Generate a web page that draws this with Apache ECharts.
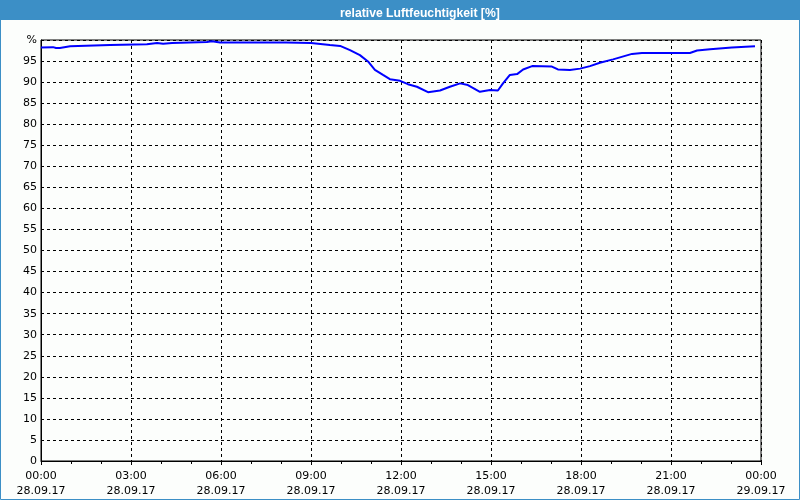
<!DOCTYPE html>
<html><head><meta charset="utf-8">
<script src="https://cdn.jsdelivr.net/npm/echarts@6/dist/echarts.min.js"></script>
<style>html,body{margin:0;padding:0;background:#fcfefc}#c{width:800px;height:500px}</style>
</head><body><div id="c"></div>
<script>
const titleText = 'relative Luftfeuchtigkeit [%]';
const hours = [0.00,0.4,0.5,0.63,0.97,2.3,3.53,3.87,4.07,4.37,5.53,5.7,5.97,8.17,9.0,9.63,9.97,10.3,10.63,10.9,11.13,11.4,11.63,11.97,12.23,12.53,12.9,13.3,13.63,13.97,14.23,14.63,14.97,15.23,15.4,15.63,15.87,16.07,16.37,17.03,17.23,17.63,17.97,18.3,18.63,19.07,19.7,20.03,21.63,21.87,22.3,23.03,23.8];
const humidity = [98.2,98.3,98.1,98.1,98.5,98.8,99.0,99.3,99.1,99.3,99.5,99.7,99.4,99.4,99.3,98.8,98.6,97.6,96.4,94.9,92.9,91.7,90.7,90.3,89.5,88.9,87.6,88.0,88.9,89.7,89.3,87.7,88.1,88.0,89.7,91.7,91.9,93.0,93.8,93.7,93.0,92.9,93.2,93.8,94.6,95.4,96.7,96.9,96.9,97.5,97.8,98.2,98.5];
const xTickLabels = ['00:00\n28.09.17','03:00\n28.09.17','06:00\n28.09.17','09:00\n28.09.17','12:00\n28.09.17','15:00\n28.09.17','18:00\n28.09.17','21:00\n28.09.17','00:00\n29.09.17'];

const chart = echarts.init(document.getElementById('c'));
const font = 'DejaVu Sans';
chart.setOption({
  backgroundColor: '#fcfefc',
  animation: false,
  title: {
    text: titleText, left: 335, top: 3,
    textStyle: {color: '#ffffff', fontSize: 12.2, fontWeight: 'bold', fontFamily: 'Liberation Sans'}
  },
  graphic: [
    {type: 'rect', shape: {x: 0, y: 0, width: 800, height: 20}, style: {fill: '#3c8fc6'}, z: -1},
    {type: 'rect', shape: {x: 0.5, y: 0.5, width: 799, height: 499}, style: {fill: null, stroke: '#3c8fc6', lineWidth: 1}, z: 10}
  ],
  grid: {left: 41, right: 39, top: 40, bottom: 39, show: true, borderColor: '#000', borderWidth: 1, backgroundColor: 'transparent'},
  xAxis: {
    type: 'value', min: 0, max: 24, interval: 3,
    axisLine: {lineStyle: {color: '#000'}},
    axisTick: {show: true, length: 4, lineStyle: {color: '#000'}},
    minorTick: {show: true, splitNumber: 3, length: 3, lineStyle: {color: '#000'}},
    splitLine: {show: true, lineStyle: {color: '#000', type: [3, 3], width: 1}},
    axisLabel: {
      color: '#000', fontSize: 11, fontFamily: font, lineHeight: 15, margin: 8,
      formatter: v => xTickLabels[Math.round(v / 3)]
    }
  },
  yAxis: {
    type: 'value', min: 0, max: 100, interval: 5,
    axisLine: {show: true, lineStyle: {color: '#000'}},
    axisTick: {show: false},
    splitLine: {show: true, lineStyle: {color: '#000', type: [3, 3], width: 1}},
    axisLabel: {
      color: '#000', fontSize: 11, fontFamily: font, margin: 4,
      formatter: v => v === 100 ? '%' : String(v)
    }
  },
  series: [{
    type: 'line', data: hours.map((h, i) => [h, humidity[i]]),
    showSymbol: false, lineStyle: {color: '#0000ff', width: 2}, itemStyle: {color: '#0000ff'}
  }]
});
</script></body></html>
